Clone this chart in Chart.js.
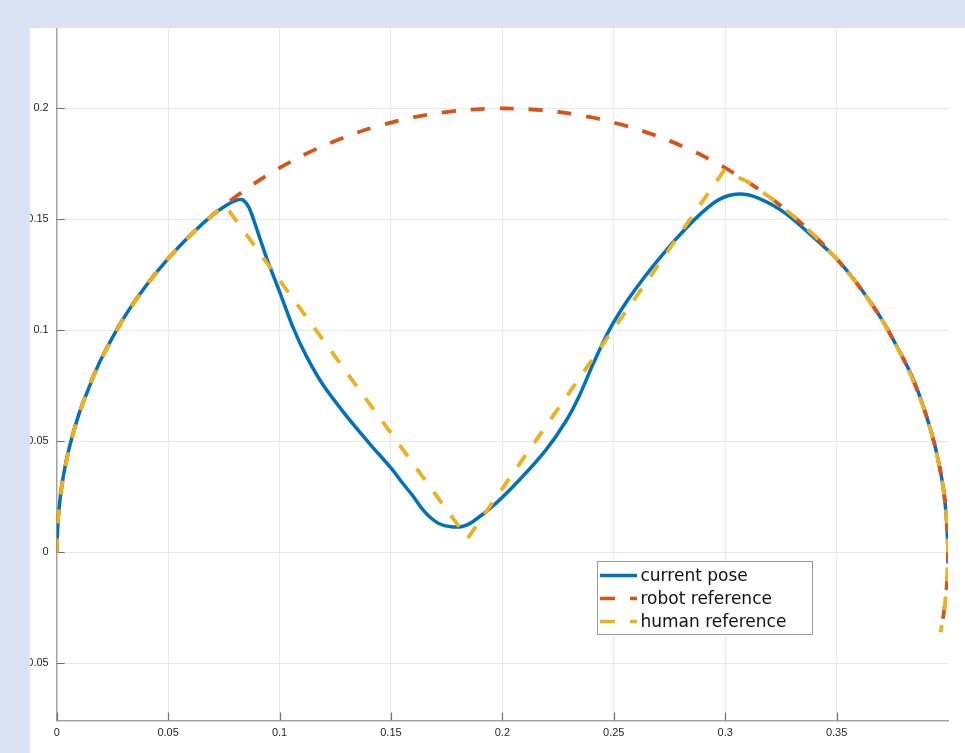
<!DOCTYPE html>
<html>
<head>
<meta charset="utf-8">
<script src="https://cdn.jsdelivr.net/npm/chart.js@4"></script>
<style>
  html, body { margin: 0; padding: 0; }
  body { width: 965px; height: 753px; background: #dae3f3; position: relative; overflow: hidden; }
  #panel { position: absolute; left: 30px; top: 28px; width: 935px; height: 725px; background: #fff; overflow: hidden; }
  #wrap { position: absolute; left: -30px; top: 0; width: 965px; height: 725px; }
</style>
</head>
<body>
<div id="panel"><div id="wrap"><canvas id="chart"></canvas></div></div>
<script>
const xTicks = [0, 0.05, 0.1, 0.15, 0.2, 0.25, 0.3, 0.35]
const yTicks = [-0.05, 0, 0.05, 0.1, 0.15, 0.2]

const labels = ['current pose', 'robot reference', 'human reference']

// current pose
const poseX = [0, 0.0005, 0.0015, 0.003, 0.006, 0.01, 0.015, 0.02, 0.03, 0.04, 0.05, 0.06, 0.07, 0.076, 0.0805, 0.0835,
    0.0862, 0.0885, 0.0915, 0.0945, 0.1, 0.106, 0.112, 0.1195, 0.13, 0.14, 0.1508, 0.155, 0.1598, 0.1635,
    0.1672, 0.172, 0.1777, 0.1825, 0.1867, 0.1971, 0.2076, 0.2195, 0.2285, 0.2345, 0.241, 0.2479, 0.255, 0.2628, 0.2705,
    0.2778, 0.2882, 0.2972, 0.3061, 0.3151, 0.3271, 0.342, 0.35, 0.36, 0.37, 0.38, 0.385, 0.39, 0.394, 0.397, 0.3985,
    0.3995, 0.4, 0.4]
const poseY = [0, 0.012, 0.024, 0.0345, 0.0486, 0.0624, 0.0755, 0.0872, 0.1054, 0.12, 0.1323, 0.1428, 0.152, 0.1563, 0.1586, 0.1588,
    0.1555, 0.1495, 0.1405, 0.1318, 0.1175, 0.1015, 0.0885, 0.0755, 0.0615, 0.0495, 0.0371, 0.0315, 0.0255, 0.0203,
    0.0162, 0.0128, 0.0115, 0.0118, 0.0138, 0.0221, 0.0326, 0.0461, 0.0591, 0.0705, 0.0855, 0.1, 0.1118, 0.1227, 0.1324,
    0.141, 0.1518, 0.1589, 0.1614, 0.1595, 0.1527, 0.1398, 0.1323, 0.12, 0.1054, 0.0872, 0.0766, 0.0624, 0.0486, 0.0345, 0.024,
    0.012, 0, -0.005]

// robot reference
const robotX = [0, 0.0005, 0.0015, 0.003, 0.006, 0.01, 0.015, 0.02, 0.03, 0.04, 0.05, 0.06, 0.07, 0.08, 0.09, 0.1, 0.11, 0.12,
    0.13, 0.14, 0.15, 0.16, 0.17, 0.18, 0.19, 0.2, 0.21, 0.22, 0.23, 0.24, 0.25, 0.26, 0.27, 0.28, 0.29, 0.3, 0.31, 0.32, 0.33,
    0.34, 0.35, 0.36, 0.37, 0.38, 0.385, 0.39, 0.394, 0.397, 0.3985, 0.3995, 0.4, 0.3995, 0.3985, 0.3967]
const robotY = [0, 0.0141, 0.0245, 0.0345, 0.0486, 0.0624, 0.076, 0.0872, 0.1054, 0.12, 0.1323, 0.1428, 0.152, 0.16, 0.167, 0.1732,
    0.1786, 0.1833, 0.1873, 0.1908, 0.1936, 0.196, 0.1977, 0.199, 0.1997, 0.2, 0.1997, 0.199, 0.1977, 0.196, 0.1936, 0.1908,
    0.1873, 0.1833, 0.1786, 0.1732, 0.167, 0.16, 0.152, 0.1428, 0.1323, 0.12, 0.1054, 0.0872, 0.076, 0.0624, 0.0486, 0.0345,
    0.0245, 0.0141, 0, -0.0141, -0.0245, -0.036]

// human reference
const humanX = [0, 0.0005, 0.0015, 0.003, 0.006, 0.01, 0.015, 0.02, 0.03, 0.04, 0.05, 0.06, 0.07, 0.0755, 0.1844, 0.2995,
    0.31, 0.32, 0.33, 0.34, 0.35, 0.36, 0.37, 0.38, 0.385, 0.39, 0.394, 0.397, 0.3985, 0.3995, 0.4, 0.3995, 0.3985, 0.3967]
const humanY = [0, 0.0141, 0.0245, 0.0345, 0.0486, 0.0624, 0.076, 0.0872, 0.1054, 0.12, 0.1323, 0.1428, 0.152, 0.1564, 0.0063, 0.172,
    0.167, 0.16, 0.152, 0.1428, 0.1323, 0.12, 0.1054, 0.0872, 0.076, 0.0624, 0.0486, 0.0345, 0.0245, 0.0141, 0, -0.0141, -0.0245, -0.036]

const toPoints = (xs, ys) => xs.map((x, i) => ({ x: x, y: ys[i] }))

const tickFont = { family: 'Liberation Sans', size: 11 }

const innerTicks = {
    id: 'innerTicks',
    beforeDatasetsDraw(chart) {
        const { ctx, chartArea: a, scales: { x, y } } = chart
        ctx.save()
        ctx.strokeStyle = '#707070'
        ctx.lineWidth = 1.2
        ctx.beginPath()
        xTicks.forEach(v => {
            const px = Math.round(x.getPixelForValue(v)) + 0.5
            ctx.moveTo(px, a.bottom)
            ctx.lineTo(px, a.bottom - 8)
        })
        yTicks.forEach(v => {
            const py = Math.round(y.getPixelForValue(v)) + 0.5
            ctx.moveTo(a.left, py)
            ctx.lineTo(a.left + 8, py)
        })
        ctx.stroke()
        ctx.restore()
    }
}

const legendBox = {
    id: 'legendBox',
    afterDraw(chart) {
        const ctx = chart.ctx
        const left = 597.5, top = 533.5, w = 215, h = 73
        ctx.save()
        ctx.fillStyle = '#fff'
        ctx.fillRect(left, top, w, h)
        ctx.strokeStyle = '#9a9a9a'
        ctx.lineWidth = 1
        ctx.strokeRect(left, top, w, h)
        chart.data.datasets.forEach((ds, i) => {
            const yy = top + 14 + i * 23
            ctx.strokeStyle = ds.borderColor
            ctx.lineWidth = 3.5
            ctx.setLineDash(ds.borderDash ? [15, 15] : [])
            ctx.beginPath()
            ctx.moveTo(left + 2.5, yy)
            ctx.lineTo(left + 39.5, yy)
            ctx.stroke()
            ctx.setLineDash([])
            ctx.fillStyle = '#111'
            ctx.font = '17px "DejaVu Sans"'
            ctx.textBaseline = 'middle'
            ctx.fillText(ds.label, left + 43, yy + 1)
        })
        ctx.restore()
    }
}

new Chart(document.getElementById('chart'), {
    type: 'scatter',
    data: {
        datasets: [{
            label: labels[0],
            data: toPoints(poseX, poseY),
            borderColor: '#0072BD',
            borderWidth: 3.5,
            tension: 0.3,
            order: 3
        }, {
            label: labels[1],
            data: toPoints(robotX, robotY),
            borderColor: '#D95319',
            borderWidth: 3.8,
            borderDash: [14, 15],
            tension: 0.25,
            order: 2
        }, {
            label: labels[2],
            data: toPoints(humanX, humanY),
            borderColor: '#EDB120',
            borderWidth: 3.8,
            borderDash: [14, 15],
            tension: 0,
            order: 1
        }]
    },
    options: {
        animation: false,
        responsive: true,
        maintainAspectRatio: false,
        showLine: true,
        elements: { point: { radius: 0, hoverRadius: 0 }, line: { borderCapStyle: 'butt', borderJoinStyle: 'round' } },
        layout: { padding: { left: 0, right: 17, top: 0, bottom: 0 } },
        plugins: { legend: { display: false }, tooltip: { enabled: false } },
        scales: {
            x: {
                type: 'linear',
                min: 0,
                max: 0.4,
                afterBuildTicks: s => { s.ticks = xTicks.map(v => ({ value: v })) },
                afterFit: s => { s.height = 32.5; s.paddingLeft = 0; s.paddingRight = 0 },
                ticks: { callback: v => String(v), color: '#262626', font: tickFont, padding: 6, maxRotation: 0, autoSkip: false },
                grid: { color: '#e8e8e8', drawTicks: false },
                border: { color: '#a3a3a3', width: 1.5 }
            },
            y: {
                type: 'linear',
                min: -0.0757,
                max: 0.2362,
                afterBuildTicks: s => { s.ticks = yTicks.map(v => ({ value: v })) },
                afterFit: s => { s.width = 56.7; s.paddingTop = 0; s.paddingBottom = 0 },
                ticks: { callback: v => String(v), color: '#262626', font: tickFont, padding: 8, autoSkip: false },
                grid: { color: '#e8e8e8', drawTicks: false },
                border: { color: '#a3a3a3', width: 1.5 }
            }
        }
    },
    plugins: [innerTicks, legendBox]
})
</script>
</body>
</html>
